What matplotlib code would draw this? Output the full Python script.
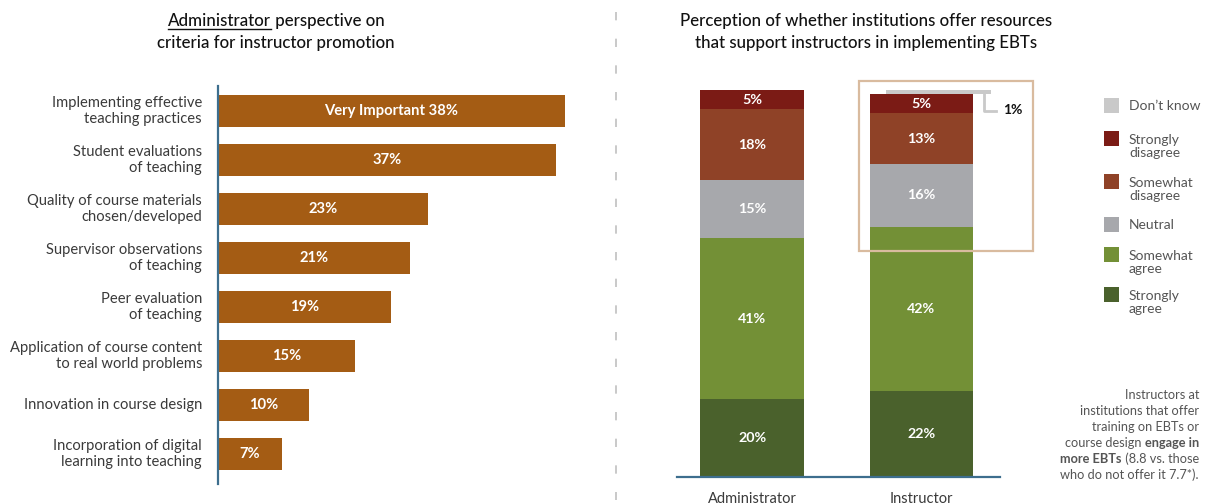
import matplotlib
matplotlib.use("Agg")
import matplotlib.pyplot as plt
from matplotlib.patches import Rectangle
from matplotlib.lines import Line2D

plt.rcParams['font.family'] = ['Lato', 'DejaVu Sans']

# ---------------- data ----------------
criteria = ["Implementing effective\nteaching practices",
            "Student evaluations\nof teaching",
            "Quality of course materials\nchosen/developed",
            "Supervisor observations\nof teaching",
            "Peer evaluation\nof teaching",
            "Application of course content\nto real world problems",
            "Innovation in course design",
            "Incorporation of digital\nlearning into teaching"]
very_important = [38, 37, 23, 21, 19, 15, 10, 7]

groups = ["Administrator", "Instructor"]
strongly_agree = [20, 22]
somewhat_agree = [41, 42]
neutral = [15, 16]
somewhat_disagree = [18, 13]
strongly_disagree = [5, 5]
dont_know = [0, 1]

W, H = 1207, 504
fig = plt.figure(figsize=(W / 100, H / 100), dpi=100)

def fx(px):
    return px / W

def fy(py):
    return 1 - py / H

AXIS_C = "#3d6e8e"
TXT_C = "#3a3a3a"
LEG_C = "#555555"
TITLE_FS = 12.2

# ---------------- left panel ----------------
ax1 = fig.add_axes([fx(218), fy(484), 380 / W, (484 - 86) / H])
ypos = list(range(len(criteria)))
ax1.barh(ypos, very_important, height=0.65, color="#a45c14", linewidth=0)
ax1.set_xlim(0, 380 / 9.13)
ax1.set_ylim(7.61, -0.51)
for s in ["top", "right", "bottom"]:
    ax1.spines[s].set_visible(False)
ax1.spines["left"].set_color(AXIS_C)
ax1.spines["left"].set_linewidth(1.6)
ax1.set_xticks([])
ax1.set_yticks([])
for i, (lab, v) in enumerate(zip(criteria, very_important)):
    txt = f"Very Important {v}%" if i == 0 else f"{v}%"
    ax1.text(v / 2, i, txt, ha="center", va="center", color="white",
             fontsize=10.6, fontweight="bold")
    ax1.text(-16 / 9.13, i, lab, ha="right", va="center", color=TXT_C,
             fontsize=10.6, linespacing=1.2, multialignment="right")

# left title with underlined word
renderer = fig.canvas.get_renderer()
t_a = fig.text(0, fy(21), "Administrator", fontsize=TITLE_FS, color="#111111",
               va="center", ha="left", fontweight="medium")
t_b = fig.text(0, fy(21), " perspective on", fontsize=TITLE_FS, color="#111111",
               va="center", ha="left", fontweight="medium")
wa = t_a.get_window_extent(renderer).width
wb = t_b.get_window_extent(renderer).width
x0 = 276 - (wa + wb) / 2
t_a.set_x(fx(x0))
t_b.set_x(fx(x0 + wa))
fig.add_artist(Line2D([fx(x0), fx(x0 + wa)], [fy(29), fy(29)],
                      color="#111111", lw=1.0))
fig.text(fx(276), fy(43), "criteria for instructor promotion", fontsize=TITLE_FS,
         color="#111111", ha="center", va="center", fontweight="medium")

# separator
fig.add_artist(Line2D([fx(616), fx(616)], [fy(12), fy(500)], color="#c0c0c0",
                      lw=1.2, linestyle=(0, (5, 11))))

# ---------------- right panel ----------------
ax2 = fig.add_axes([fx(677), fy(477), (1000 - 677) / W, (477 - 80) / H])
xpos = [0, 1]
bw = 0.61
segs = [(strongly_agree, "#4a612c"),
        (somewhat_agree, "#739036"),
        (neutral, "#a7a8ac"),
        (somewhat_disagree, "#8f4227"),
        (strongly_disagree, "#7b1b15")]
bottoms = [0, 0]
for vals, col in segs:
    ax2.bar(xpos, vals, bw, bottom=bottoms, color=col, linewidth=0)
    for j in range(2):
        ax2.text(xpos[j], bottoms[j] + vals[j] / 2, f"{vals[j]}%",
                 ha="center", va="center", color="white", fontsize=10.3,
                 fontweight="bold")
    bottoms = [b + v for b, v in zip(bottoms, vals)]

DK_C = "#c9c9c9"
# don't know strip (instructor only), slightly offset
ax2.bar([1 + 0.104], [dont_know[1]], 0.62, bottom=[bottoms[1]], color=DK_C,
        linewidth=0, zorder=1)
ax2.set_xlim(-0.444, 1.467)
ax2.set_ylim(0, (477 - 80) / 3.91)
for s in ["top", "right", "left"]:
    ax2.spines[s].set_visible(False)
ax2.spines["bottom"].set_color(AXIS_C)
ax2.spines["bottom"].set_linewidth(1.6)
ax2.set_yticks([])
ax2.set_xticks(xpos)
ax2.set_xticklabels(groups, fontsize=10.5, color=TXT_C)
ax2.tick_params(axis="x", length=0, pad=11)

# connector and 1% label
fig.add_artist(Line2D([fx(984), fx(984), fx(996)], [fy(94), fy(111), fy(111)],
                      color=DK_C, lw=2))
fig.text(fx(1003), fy(110), f"{dont_know[1]}%", fontsize=10, fontweight="bold",
         color="#111111", ha="left", va="center")

# highlight box
fig.add_artist(Rectangle((fx(859), fy(251)), fx(1033) - fx(859),
                         fy(81) - fy(251), fill=False, edgecolor="#d9bb9f",
                         lw=1.6))

# right title
fig.text(fx(866), fy(21), "Perception of whether institutions offer resources",
         fontsize=TITLE_FS, color="#111111", ha="center", va="center",
         fontweight="medium")
fig.text(fx(866), fy(43), "that support instructors in implementing EBTs",
         fontsize=TITLE_FS, color="#111111", ha="center", va="center",
         fontweight="medium")

# legend
leg_items = [("Don\u2019t know", DK_C, 106),
             ("Strongly\ndisagree", "#7b1b15", 139),
             ("Somewhat\ndisagree", "#8f4227", 182),
             ("Neutral", "#a7a8ac", 225),
             ("Somewhat\nagree", "#739036", 255),
             ("Strongly\nagree", "#4a612c", 295)]
for lab, col, yc in leg_items:
    fig.add_artist(Rectangle((fx(1104), fy(yc + 7)), 15 / W, 15 / H,
                             facecolor=col, edgecolor="none"))
    nl = lab.count("\n")
    fig.text(fx(1129), fy(yc + 7.5 * nl), lab, fontsize=10, color=LEG_C,
             ha="left", va="center", linespacing=1.1)

# annotation text (right aligned, with bold part)
RX = 1199
ann_fs = 9.2
def rtext(x, y, s, bold=False):
    t = fig.text(fx(x), fy(y), s, fontsize=ann_fs, color=LEG_C, ha="right",
                 va="center", fontweight="bold" if bold else "normal")
    return t.get_window_extent(renderer).width

rtext(RX, 395, "Instructors at")
rtext(RX, 411, "institutions that offer")
rtext(RX, 427, "training on EBTs or")
w = rtext(RX, 443, "engage in", bold=True)
rtext(RX - w, 443, "course design ")
w = rtext(RX, 459, " (8.8 vs. those")
rtext(RX - w, 459, "more EBTs", bold=True)
rtext(RX, 475, "who do not offer it 7.7*).")

fig.savefig("out.png", dpi=100)
